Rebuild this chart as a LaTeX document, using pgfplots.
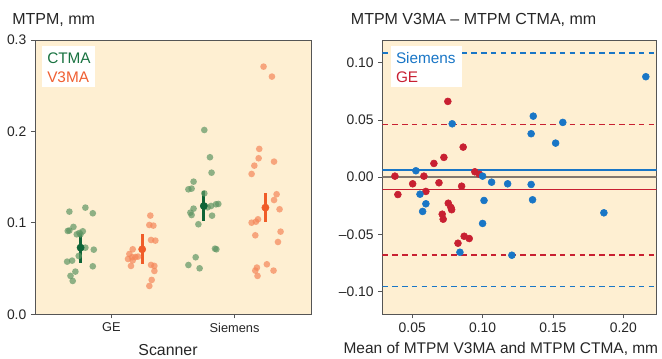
\documentclass[border=0pt]{standalone}
\usepackage{pgfplots}
\pgfplotsset{compat=1.18}
\usepackage{fontspec}
\setmainfont{Liberation Sans}
\definecolor{bg}{RGB}{254,239,210}
\definecolor{frame}{RGB}{85,85,85}
\definecolor{ptgreen}{RGB}{95,150,100}
\definecolor{mgreen}{RGB}{15,100,55}
\definecolor{lgreen}{RGB}{25,115,65}
\definecolor{ptorange}{RGB}{245,135,90}
\definecolor{morange}{RGB}{240,92,40}
\definecolor{lorange}{RGB}{240,95,50}
\definecolor{bblue}{RGB}{25,118,198}
\definecolor{rred}{RGB}{200,32,50}
\definecolor{zgrey}{RGB}{130,120,110}
\pgfplotsset{
  common/.style={
    scale only axis, anchor=south west,
    axis background/.style={fill=bg},
    axis line style={draw=frame, line width=0.6pt},
    tick style={draw=frame, line width=0.6pt},
    tick align=outside, major tick length=3pt, tick pos=left,
    tick label style={font=\fontsize{10.4}{12}\selectfont, text=black!85},
  }
}
\begin{document}
\begin{tikzpicture}
\useasboundingbox (0,0) rectangle (496.5pt,268.5pt);
% ---------------- left panel ----------------
\begin{axis}[common, at={(26.25pt,32.78pt)}, width=207pt, height=205.7pt,
  xmin=-0.62, xmax=1.62, ymin=0, ymax=0.3,
  xtick={0,1}, xticklabels={GE,Siemens},
  xticklabel style={font=\fontsize{9.6}{11}\selectfont},
  ytick={0,0.1,0.2,0.3}, yticklabels={0.0,0.1,0.2,0.3}]
\addplot[color=ptgreen, only marks, mark=*, mark size=2.5pt, mark options={fill opacity=0.7, draw opacity=0}] table {
x y
-0.341 0.1123
-0.211 0.1167
-0.151 0.1105
-0.354 0.0912
-0.341 0.0916
-0.308 0.0956
-0.281 0.0875
-0.259 0.0890
-0.232 0.0908
-0.251 0.0875
-0.211 0.0729
-0.143 0.0707
-0.265 0.0638
-0.359 0.0576
-0.319 0.0587
-0.151 0.0525
-0.292 0.0467
-0.332 0.0420
-0.314 0.0365
0.754 0.2016
0.800 0.1718
0.813 0.1549
0.667 0.1451
0.625 0.1367
0.651 0.1375
0.754 0.1323
0.667 0.1156
0.641 0.1112
0.651 0.1086
0.781 0.1170
0.809 0.1185
0.849 0.1203
0.868 0.1207
0.817 0.1079
0.706 0.0985
0.841 0.0718
0.852 0.0711
0.684 0.0624
0.625 0.0539
0.716 0.0503
};
\addplot[color=ptorange, only marks, mark=*, mark size=2.5pt, mark options={fill opacity=0.7, draw opacity=0}] table {
x y
0.316 0.1080
0.308 0.0977
0.341 0.0970
0.322 0.0813
0.357 0.0806
0.173 0.0711
0.146 0.0660
0.135 0.0605
0.168 0.0624
0.195 0.0627
0.216 0.0631
0.159 0.0529
0.173 0.0590
0.322 0.0540
0.349 0.0529
0.349 0.0474
0.327 0.0376
0.308 0.0310
1.235 0.2709
1.303 0.2600
1.200 0.1809
1.195 0.1707
1.320 0.1670
1.160 0.1626
1.138 0.1535
1.341 0.1313
1.320 0.1250
1.365 0.1149
1.138 0.1002
1.173 0.1013
1.190 0.1039
1.373 0.0904
1.168 0.0864
1.352 0.0791
1.262 0.0547
1.181 0.0511
1.168 0.0478
1.186 0.0420
1.316 0.0478
};
\addplot[color=mgreen, only marks, mark=*, mark size=2.7pt,
  error bars/.cd, y dir=both, y explicit, error mark=none,
  error bar style={line width=2pt, color=mgreen}] coordinates {
  (-0.25,0.0729) +- (0,0.0164)
  (0.75,0.1185) +- (0,0.0165)
};
\addplot[color=morange, only marks, mark=*, mark size=2.7pt,
  error bars/.cd, y dir=both, y explicit, error mark=none,
  error bar style={line width=2pt, color=morange}] coordinates {
  (0.25,0.0711) +- (0,0.0164)
  (1.25,0.1167) +- (0,0.0162)
};
\end{axis}
% ---------------- right panel ----------------
\begin{axis}[common, at={(286.7pt,32.78pt)}, width=205.8pt, height=205.7pt,
  xmin=0.0287, xmax=0.2237, ymin=-0.12, ymax=0.12,
  xtick={0.05,0.1,0.15,0.2}, xticklabels={0.05,0.10,0.15,0.20},
  ytick={-0.1,-0.05,0,0.05,0.1}, yticklabels={–0.10,–0.05,0.00,0.05,0.10}]
\addplot[color=zgrey, line width=1.3pt] coordinates {(0.0287,0) (0.2237,0)};
\addplot[color=bblue, line width=1.15pt] coordinates {(0.0287,0.0065) (0.2237,0.0065)};
\addplot[color=rred, line width=1.15pt] coordinates {(0.0287,-0.011) (0.2237,-0.011)};
\addplot[color=bblue, line width=1.1pt, dash pattern=on 4.2pt off 3.2pt] coordinates {(0.0287,0.1086) (0.2237,0.1086)};
\addplot[color=bblue, line width=1.1pt, dash pattern=on 4.2pt off 3.2pt] coordinates {(0.0287,-0.0957) (0.2237,-0.0957)};
\addplot[color=rred, line width=1.1pt, dash pattern=on 4.2pt off 3.2pt] coordinates {(0.0287,0.0461) (0.2237,0.0461)};
\addplot[color=rred, line width=1.1pt, dash pattern=on 4.2pt off 3.2pt] coordinates {(0.0287,-0.0683) (0.2237,-0.0683)};
\addplot[color=rred, only marks, mark=*, mark size=2.6pt] table {
x y
0.0377 0.0009
0.0583 0.0009
0.0654 0.0120
0.0725 0.0173
0.0753 0.0663
0.0862 0.0263
0.0945 0.0047
0.0976 0.0026
0.0398 -0.0152
0.0503 -0.0058
0.0597 -0.0125
0.0690 -0.0049
0.0756 -0.0228
0.0713 -0.0324
0.0720 -0.0368
0.0775 -0.0265
0.0780 -0.0285
0.0851 -0.0079
0.0825 -0.0578
0.0869 -0.0517
0.0905 -0.0537
};
\addplot[color=bblue, only marks, mark=*, mark size=2.6pt] table {
x y
0.0526 0.0056
0.0784 0.0467
0.1345 0.0380
0.1360 0.0534
0.1519 0.0298
0.1570 0.0479
0.2160 0.0879
0.1000 0.0009
0.0555 -0.0149
0.0574 -0.0300
0.0597 -0.0233
0.0839 -0.0657
0.1000 -0.0405
0.1010 -0.0204
0.1064 -0.0044
0.1178 -0.0058
0.1208 -0.0683
0.1345 -0.0064
0.1355 -0.0198
0.1862 -0.0312
};
\end{axis}
% ---------------- legends, titles, labels ----------------
\fill[white] (31.3pt,203.5pt) rectangle (71.25pt,234.2pt);
\node[anchor=base west, inner sep=0pt, text=lgreen, font=\fontsize{11.5}{13}\selectfont] at (35.25pt,221pt) {CTMA};
\node[anchor=base west, inner sep=0pt, text=lorange, font=\fontsize{11.5}{13}\selectfont] at (35.25pt,206.5pt) {V3MA};
\fill[white] (293.25pt,203.5pt) rectangle (346.3pt,234.2pt);
\node[anchor=base west, inner sep=0pt, text=bblue, font=\fontsize{11.5}{13}\selectfont] at (296.8pt,221pt) {Siemens};
\node[anchor=base west, inner sep=0pt, text=rred, font=\fontsize{11.5}{13}\selectfont] at (296.8pt,206.5pt) {GE};
\node[anchor=base west, inner sep=0pt, text=black!85, font=\fontsize{12}{14}\selectfont] at (9pt,249.75pt) {MTPM, mm};
\node[anchor=base west, inner sep=0pt, text=black!85, font=\fontsize{12}{14}\selectfont] at (263pt,249.75pt) {MTPM V3MA – MTPM CTMA, mm};
\node[anchor=base, inner sep=0pt, text=black!85, font=\fontsize{11.9}{14}\selectfont] at (126pt,2.25pt) {Scanner};
\node[anchor=base west, inner sep=0pt, text=black!85, font=\fontsize{11.6}{14}\selectfont] at (257.5pt,3.5pt) {Mean of MTPM V3MA and MTPM CTMA, mm};
\end{tikzpicture}
\end{document}
